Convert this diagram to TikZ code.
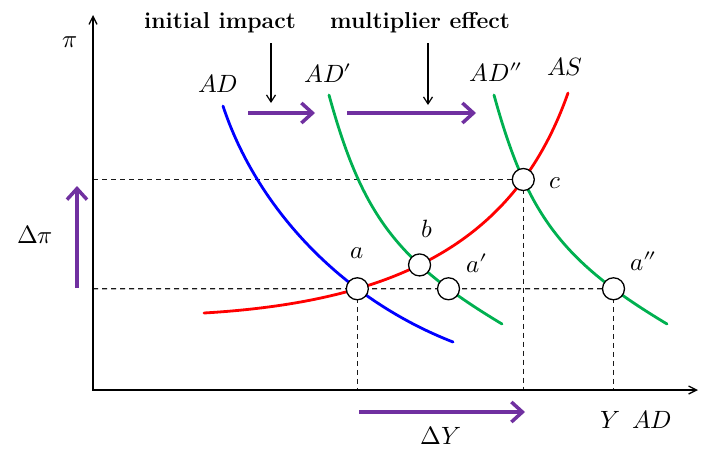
\documentclass[tikz,border=0pt]{standalone}
\usepackage{unicode-math}
\usetikzlibrary{arrows.meta,intersections}
\definecolor{adblue}{RGB}{0,0,255}
\definecolor{adgreen}{RGB}{0,176,80}
\definecolor{asred}{RGB}{255,0,0}
\definecolor{shiftpurple}{RGB}{112,48,160}
\definecolor{guidegray}{RGB}{25,25,25}
\tikzset{
  curve/.style={line width=2.8pt, line cap=round},
  axisline/.style={line width=1.8pt, {Straight Barb[length=8pt,width=8pt,line width=1.3pt]}-{Straight Barb[length=8pt,width=8pt,line width=1.3pt]}},
  guide/.style={line width=1.4pt, guidegray, dash pattern=on 5pt off 4pt},
  shiftarrow/.style={line width=3.5pt, shiftpurple, -{Straight Barb[length=11pt,width=20pt]}},
  pointer/.style={line width=1.2pt, black, -{Straight Barb[length=7pt,width=9pt]}},
  eqpoint/.style={circle, draw=black, fill=white, line width=1.3pt, minimum size=22pt, inner sep=0pt},
  mlabel/.style={inner sep=0pt, font=\fontsize{25}{30}\selectfont},
  toptext/.style={inner sep=0pt, font=\fontsize{23}{27}\selectfont\bfseries}
}
\begin{document}
\begin{tikzpicture}[x=1pt,y=-1pt]
\useasboundingbox (0,0) rectangle (707,450);
\coordinate (origin) at (93,390);
\coordinate (yend) at (93,15);
\coordinate (xend) at (698,390);
% curve paths (named, drawn later)
\path[name path=blue] (223,106) .. controls (256,206) and (340,298) .. (453,342);
\path[name path=greenA] (329,95) .. controls (362,215) and (397,261) .. (502,324);
\path[name path=greenB] (494,95) .. controls (527,215) and (562,261) .. (667,324);
\path[name path=red] (204,313) .. controls (408,301) and (518,235) .. (568,93);
\path[name intersections={of=blue and red, by=pa}];
\path[name intersections={of=greenA and red, by=pb}];
\path[name intersections={of=greenB and red, by=pc}];
\path[name path=hline] (origin |- pa) -- (xend |- pa);
\path[name intersections={of=hline and greenA, by=pap}];
\path[name intersections={of=hline and greenB, by=papp}];
\coordinate (yhigh) at (origin |- pc);
\coordinate (ylow) at (origin |- pa);
% guides
\draw[guide] (yhigh) -- (pc);
\draw[guide] (ylow) -- (papp);
\draw[guide] (pa) -- (pa |- origin);
\draw[guide] (pc) -- (pc |- origin);
\draw[guide] (papp) -- (papp |- origin);
% axes
\draw[axisline] (yend) -- (origin) -- (xend);
% curves
\draw[curve, adblue] (223,106) .. controls (256,206) and (340,298) .. (453,342);
\draw[curve, adgreen] (329,95) .. controls (362,215) and (397,261) .. (502,324);
\draw[curve, adgreen] (494,95) .. controls (527,215) and (562,261) .. (667,324);
\draw[curve, asred] (204,313) .. controls (408,301) and (518,235) .. (568,93);
% equilibrium points
\node[eqpoint] (a) at (pa) {};
\node[eqpoint] (b) at (pb) {};
\node[eqpoint] (ap) at (pap) {};
\node[eqpoint] (c) at (pc) {};
\node[eqpoint] (app) at (papp) {};
% point labels
\node[mlabel] (la) at (357,253) {$a$};
\node[mlabel] (lb) at (427,229) {$b$};
\node[mlabel] (lap) at (477,263) {$a\prime$};
\node[mlabel] (lc) at (555,183) {$c$};
\node[mlabel] (lapp) at (643,261) {$a\dprime$};
% curve labels
\node[mlabel] (lAD) at (218,84) {$AD$};
\node[mlabel] (lADp) at (328,73) {$AD\prime$};
\node[mlabel] (lADpp) at (496,72) {$AD\dprime$};
\node[mlabel] (lAS) at (565,67) {$AS$};
% axis labels
\node[mlabel] (lpi) at (70,42) {$\pi$};
\node[mlabel] (lY) at (610,420) {$Y$};
\node[mlabel] (lYAD) at (652,420) {$AD$};
\node[mlabel] (ldY) at (441,436) {$\Delta Y$};
\node[mlabel] (ldpi) at (35,235) {$\Delta\pi$};
% top texts
\node[toptext] (ii) at (220,23) {initial impact};
\node[toptext] (me) at (420,23) {multiplier effect};
\coordinate (iiA) at (271,43);
\coordinate (iiB) at (271,103);
\coordinate (meA) at (428,43);
\coordinate (meB) at (428,105);
\draw[pointer] (iiA) -- (iiB);
\draw[pointer] (meA) -- (meB);
% purple shift arrows
\coordinate (s1a) at (248,113);
\coordinate (s1b) at (315,113);
\coordinate (s2a) at (347,113);
\coordinate (s2b) at (476,113);
\coordinate (dpa) at (77,288);
\coordinate (dpb) at (77,186);
\coordinate (dya) at (359,412);
\coordinate (dyb) at (525,412);
\draw[shiftarrow] (s1a) -- (s1b);
\draw[shiftarrow] (s2a) -- (s2b);
\draw[shiftarrow] (dpa) -- (dpb);
\draw[shiftarrow] (dya) -- (dyb);
\end{tikzpicture}
\end{document}
